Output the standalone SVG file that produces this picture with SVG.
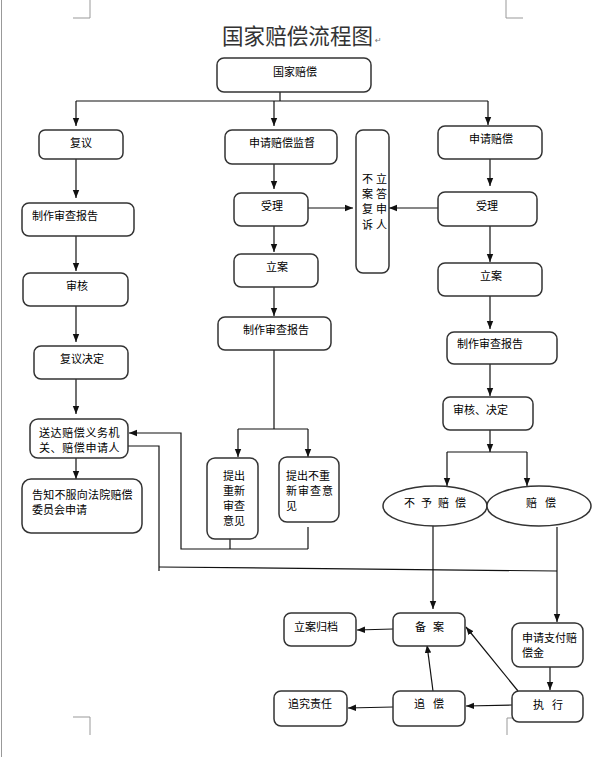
<svg xmlns="http://www.w3.org/2000/svg" width="592" height="757" viewBox="0 0 592 757">
<style>
.box{fill:#fff;stroke:#333;stroke-width:1.5}
.t{font-family:"Noto Sans CJK SC","Noto Sans CJK JP",sans-serif;font-size:11px;fill:#000}
.ln{fill:none;stroke:#111;stroke-width:1.2}
.ar{fill:none;stroke:#111;stroke-width:1.2;marker-end:url(#ah)}
.pg{fill:none;stroke:#999;stroke-width:1}
</style>
<defs>
<marker id="ah" markerUnits="userSpaceOnUse" markerWidth="8" markerHeight="8" refX="8" refY="4" orient="auto">
<path d="M0,0.8 L8,4 L0,7.2 z" fill="#111"/>
</marker>
</defs>
<rect width="592" height="757" fill="#fff"/>
<g id="page">
<line class="pg" x1="1.5" y1="0" x2="1.5" y2="757" stroke="#888"/>
<polyline class="pg" points="90,0 90,18 73,18"/>
<polyline class="pg" points="506,0 506,18 523,18"/>
<polyline class="pg" points="73,717 90,717 90,735"/>
<polyline class="pg" points="524,718 507,718 507,735"/>
</g>
<g id="title">
<text x="222" y="44" font-family="'Noto Sans CJK SC',sans-serif" font-size="21.5" textLength="151" lengthAdjust="spacing" fill="#333">国家赔偿流程图</text>
<text x="375" y="43" font-family="'DejaVu Sans',sans-serif" font-size="8" fill="#777">↵</text>
</g>
<g id="connectors">
<polyline class="ln" points="280,92 280,101"/>
<line class="ln" x1="76" y1="101" x2="488" y2="101"/>
<line class="ar" x1="76" y1="101" x2="76" y2="126"/>
<line class="ar" x1="274" y1="101" x2="274" y2="126"/>
<line class="ar" x1="488" y1="101" x2="488" y2="125"/>
<line class="ar" x1="76" y1="159" x2="76" y2="198"/>
<line class="ar" x1="274" y1="164" x2="274" y2="189"/>
<line class="ar" x1="308" y1="208" x2="353" y2="208"/>
<line class="ar" x1="490" y1="159" x2="490" y2="186"/>
<line class="ar" x1="438" y1="208" x2="389" y2="208"/>
<line class="ar" x1="274" y1="226" x2="274" y2="252"/>
<line class="ar" x1="274" y1="287" x2="274" y2="316"/>
<polyline class="ln" points="274,350 274,429"/>
<line class="ln" x1="238" y1="429" x2="308" y2="429"/>
<line class="ar" x1="238" y1="429" x2="238" y2="457"/>
<line class="ar" x1="308" y1="429" x2="308" y2="457"/>
<polyline class="ln" points="230,539 230,549"/>
<polyline class="ln" points="308,527 308,549"/>
<polyline class="ar" points="308,549 181,549 181,433 129,433"/>
<polyline class="ln" points="128,446 159,446 159,571"/>
<line class="ln" x1="159" y1="567" x2="557" y2="571"/>
<line class="ar" x1="76" y1="236" x2="76" y2="271"/>
<line class="ar" x1="76" y1="306" x2="76" y2="342"/>
<line class="ar" x1="76" y1="379" x2="76" y2="414"/>
<line class="ar" x1="76" y1="458" x2="76" y2="479"/>
<line class="ar" x1="490" y1="226" x2="490" y2="262"/>
<line class="ar" x1="490" y1="296" x2="490" y2="329"/>
<line class="ar" x1="490" y1="364" x2="490" y2="396"/>
<line class="ar" x1="490" y1="430" x2="490" y2="452"/>
<line class="ln" x1="447" y1="452" x2="527" y2="452"/>
<line class="ar" x1="447" y1="452" x2="447" y2="486"/>
<line class="ar" x1="527" y1="452" x2="527" y2="486"/>
<line class="ar" x1="433" y1="526" x2="433" y2="609"/>
<line class="ar" x1="557" y1="527" x2="557" y2="622"/>
<line class="ar" x1="393" y1="629" x2="357" y2="630"/>
<line class="ar" x1="550" y1="667" x2="550" y2="690"/>
<line class="ar" x1="512" y1="705" x2="466" y2="706"/>
<line class="ar" x1="393" y1="707" x2="348" y2="708"/>
<line class="ar" x1="433" y1="691" x2="427" y2="645"/>
<line class="ar" x1="518" y1="691" x2="466" y2="627"/>
</g>
<g id="n-gjpc"><rect class="box" x="217" y="58" width="154" height="34" rx="7"/><text class="t" x="273" y="76">国家赔偿</text></g>
<g id="n-fy"><rect class="box" x="39" y="130" width="84" height="29" rx="6"/><text class="t" x="70" y="147">复议</text></g>
<g id="n-sqpcjd"><rect class="box" x="225" y="130" width="112" height="34" rx="7"/><text class="t" x="249" y="147">申请赔偿监督</text></g>
<g id="n-blaf"><rect class="box" x="356" y="130" width="33" height="143" rx="7"/>
<text class="t" x="362" y="183" letter-spacing="3">不立</text>
<text class="t" x="362" y="198" letter-spacing="3">案答</text>
<text class="t" x="362" y="213" letter-spacing="3">复申</text>
<text class="t" x="362" y="229" letter-spacing="3">诉人</text></g>
<g id="n-sqpc"><rect class="box" x="438" y="126" width="104" height="33" rx="7"/><text class="t" x="469" y="143">申请赔偿</text></g>
<g id="n-zzbg1"><rect class="box" x="22" y="203" width="112" height="33" rx="7"/><text class="t" x="32" y="220">制作审查报告</text></g>
<g id="n-sl1"><rect class="box" x="234" y="193" width="74" height="33" rx="7"/><text class="t" x="261" y="210">受理</text></g>
<g id="n-sl2"><rect class="box" x="438" y="192" width="99" height="34" rx="7"/><text class="t" x="476" y="210">受理</text></g>
<g id="n-sh1"><rect class="box" x="23" y="273" width="105" height="33" rx="7"/><text class="t" x="66" y="290">审核</text></g>
<g id="n-la1"><rect class="box" x="234" y="254" width="84" height="33" rx="7"/><text class="t" x="266" y="271">立案</text></g>
<g id="n-la2"><rect class="box" x="438" y="263" width="104" height="33" rx="7"/><text class="t" x="480" y="280">立案</text></g>
<g id="n-zzbg2"><rect class="box" x="218" y="317" width="113" height="33" rx="7"/><text class="t" x="243" y="334">制作审查报告</text></g>
<g id="n-zzbg3"><rect class="box" x="447" y="332" width="110" height="32" rx="7"/><text class="t" x="457" y="348">制作审查报告</text></g>
<g id="n-fyjd"><rect class="box" x="34" y="346" width="94" height="33" rx="7"/><text class="t" x="60" y="363">复议决定</text></g>
<g id="n-shjd"><rect class="box" x="443" y="397" width="90" height="33" rx="7"/><text class="t" x="453" y="414">审核、决定</text></g>
<g id="n-sd"><rect class="box" x="30" y="419" width="98" height="39" rx="8"/>
<text class="t" x="39" y="437" letter-spacing="0.6">送达赔偿义务机</text>
<text class="t" x="39" y="452" letter-spacing="0.6">关、赔偿申请人</text></g>
<g id="n-gz"><rect class="box" x="22" y="479" width="120" height="54" rx="9"/>
<text class="t" x="32" y="499" letter-spacing="0.2">告知不服向法院赔偿</text>
<text class="t" x="32" y="514">委员会申请</text></g>
<g id="n-tccx"><rect class="box" x="207" y="458" width="51" height="81" rx="8"/>
<text class="t" x="223" y="480">提出</text>
<text class="t" x="223" y="495">重新</text>
<text class="t" x="223" y="510">审查</text>
<text class="t" x="223" y="525">意见</text></g>
<g id="n-tcbcx"><rect class="box" x="279" y="457" width="60" height="65" rx="8"/>
<text class="t" x="286" y="480">提出不重</text>
<text class="t" x="286" y="495" letter-spacing="1">新审查意</text>
<text class="t" x="286" y="510">见</text></g>
<g id="n-bypc"><ellipse class="box" cx="435" cy="506" rx="52" ry="20"/><text class="t" x="404" y="507" letter-spacing="6">不予赔偿</text></g>
<g id="n-pc"><ellipse class="box" cx="539" cy="506" rx="52" ry="20"/><text class="t" x="526" y="507" letter-spacing="8">赔偿</text></g>
<g id="n-lagd"><rect class="box" x="284" y="613" width="72" height="33" rx="7"/><text class="t" x="294" y="631">立案归档</text></g>
<g id="n-ba"><rect class="box" x="393" y="613" width="72" height="33" rx="7"/><text class="t" x="415" y="631" letter-spacing="7">备案</text></g>
<g id="n-sqzf"><rect class="box" x="512" y="623" width="71" height="44" rx="8"/>
<text class="t" x="522" y="642">申请支付赔</text>
<text class="t" x="522" y="657">偿金</text></g>
<g id="n-zxzr"><rect class="box" x="274" y="691" width="73" height="35" rx="7"/><text class="t" x="288" y="708">追究责任</text></g>
<g id="n-zc"><rect class="box" x="393" y="691" width="72" height="35" rx="7"/><text class="t" x="414" y="708" letter-spacing="8">追偿</text></g>
<g id="n-zx"><rect class="box" x="512" y="691" width="71" height="31" rx="7"/><text class="t" x="533" y="709" letter-spacing="8">执行</text></g>
</svg>
